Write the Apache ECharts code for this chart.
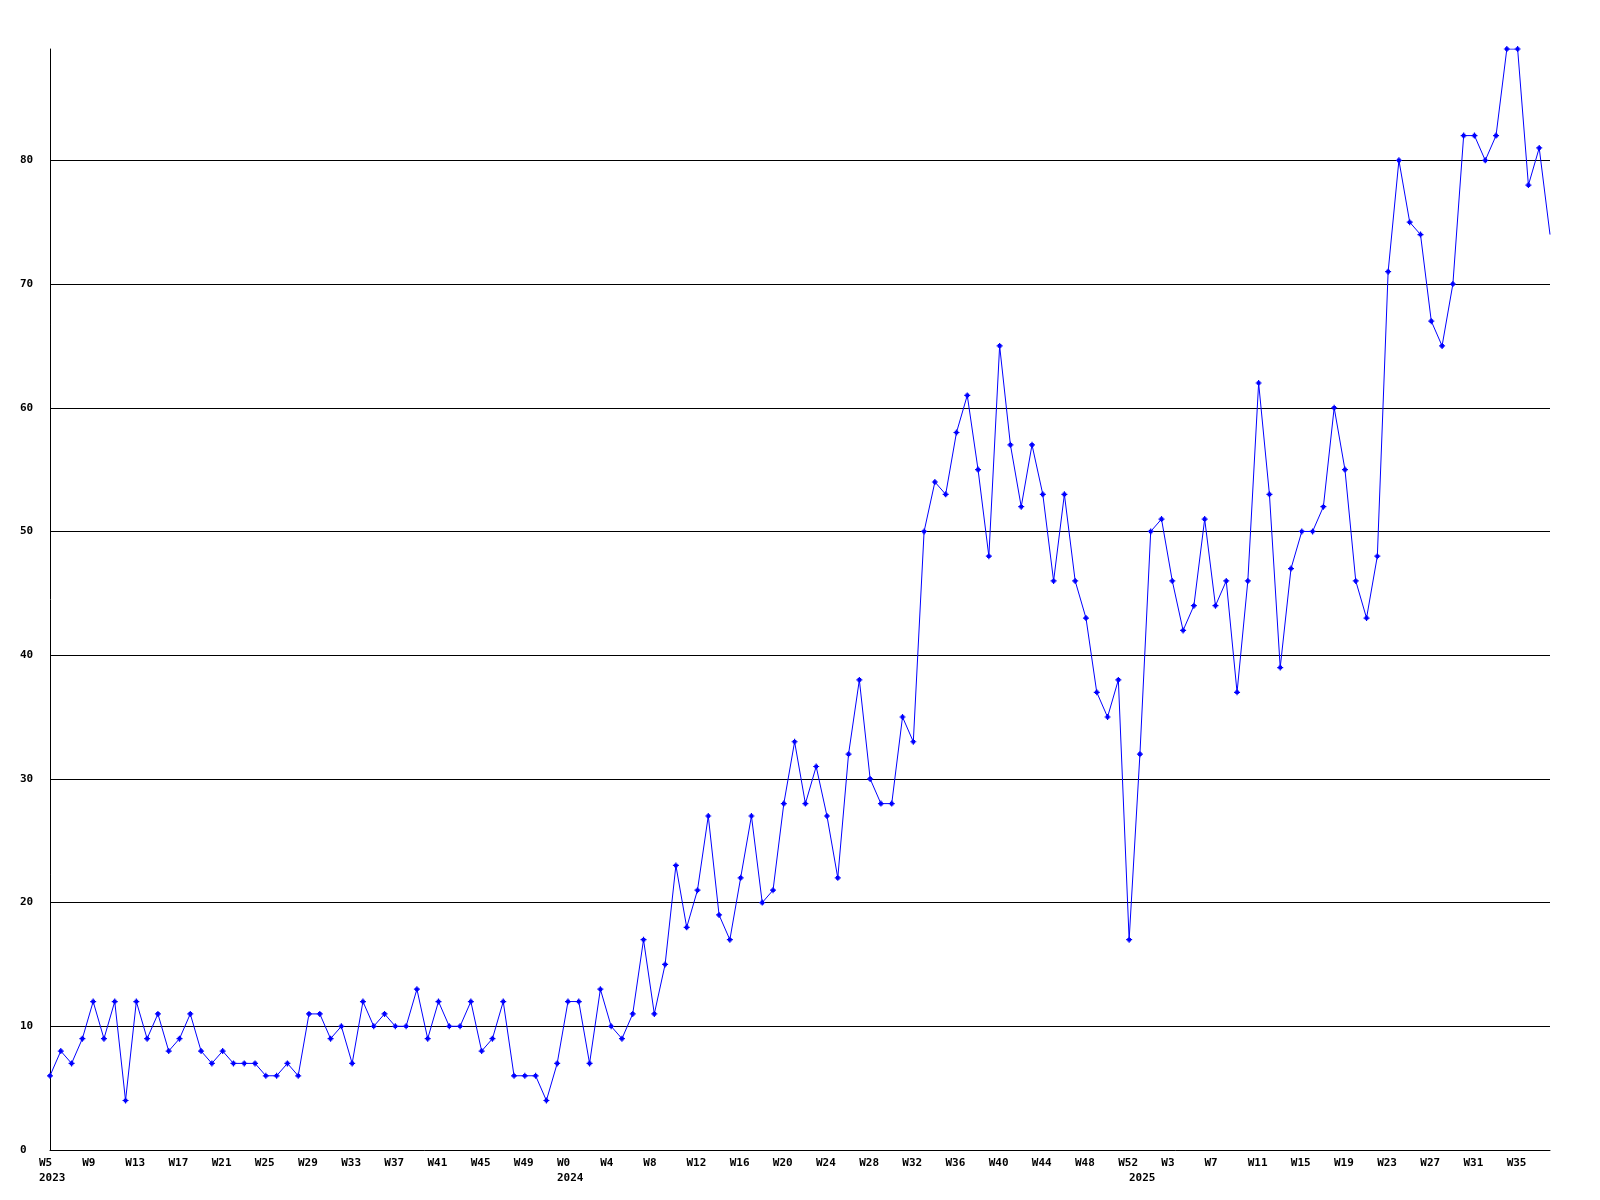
<!DOCTYPE html>
<html>
<head>
<meta charset="utf-8">
<script src="https://cdn.jsdelivr.net/npm/echarts@6/dist/echarts.min.js"></script>
<style>
  html, body { margin: 0; background: #fff; }
  #chart { width: 1600px; height: 1200px; }
</style>
</head>
<body>
<div id="chart"></div>
<script>
// week labels per year (one point per week)
const weeks2023 = ['W5','W6','W7','W8','W9','W10','W11','W12','W13','W14','W15','W16','W17','W18','W19','W20',
  'W21','W22','W23','W24','W25','W26','W27','W28','W29','W30','W31','W32','W33','W34','W35','W36',
  'W37','W38','W39','W40','W41','W42','W43','W44','W45','W46','W47','W48','W49','W50','W51','W52'];
const weeks2024 = ['W0','W1','W2','W3','W4','W5','W6','W7','W8','W9','W10','W11','W12','W13','W14','W15','W16',
  'W17','W18','W19','W20','W21','W22','W23','W24','W25','W26','W27','W28','W29','W30','W31','W32',
  'W33','W34','W35','W36','W37','W38','W39','W40','W41','W42','W43','W44','W45','W46','W47','W48',
  'W49','W50','W51','W52'];
const weeks2025 = ['W0','W1','W2','W3','W4','W5','W6','W7','W8','W9','W10','W11','W12','W13','W14','W15','W16',
  'W17','W18','W19','W20','W21','W22','W23','W24','W25','W26','W27','W28','W29','W30','W31','W32',
  'W33','W34','W35','W36','W37','W38'];
const years = ['2023', '2024', '2025'];

// weekly counts
const values2023 = [6, 8, 7, 9, 12, 9, 12, 4, 12, 9, 11, 8, 9, 11, 8, 7, 8, 7, 7, 7, 6, 6, 7, 6,
  11, 11, 9, 10, 7, 12, 10, 11, 10, 10, 13, 9, 12, 10, 10, 12, 8, 9, 12, 6, 6, 6, 4, 7];
const values2024 = [12, 12, 7, 13, 10, 9, 11, 17, 11, 15, 23, 18, 21, 27, 19, 17, 22, 27, 20, 21,
  28, 33, 28, 31, 27, 22, 32, 38, 30, 28, 28, 35, 33, 50, 54, 53, 58, 61, 55, 48,
  65, 57, 52, 57, 53, 46, 53, 46, 43, 37, 35, 38, 17];
const values2025 = [32, 50, 51, 46, 42, 44, 51, 44, 46, 37, 46, 62, 53, 39, 47, 50, 50, 52, 60, 55,
  46, 43, 48, 71, 80, 75, 74, 67, 65, 70, 82, 82, 80, 82, 89, 89, 78, 81, 74];

const labelEvery = 4; // a week label on every 4th point

const categories = [];
const yearStart = {};
[weeks2023, weeks2024, weeks2025].forEach((wk, y) => {
  yearStart[categories.length] = years[y];
  wk.forEach(w => categories.push(w));
});
const values = values2023.concat(values2024, values2025);
const last = values.length - 1;

const labelFont = {
  fontFamily: 'DejaVu Sans Mono',
  fontWeight: 'bold',
  fontSize: 11,
  color: '#000'
};

const chart = echarts.init(document.getElementById('chart'));
chart.setOption({
  animation: false,
  backgroundColor: '#fff',
  grid: { left: 50, right: 50, top: 49, bottom: 50, outerBoundsMode: 'none' },
  xAxis: {
    type: 'category',
    boundaryGap: false,
    data: categories,
    axisTick: { show: false },
    axisLine: { show: true, lineStyle: { color: '#000', width: 1 } },
    splitLine: { show: false },
    axisLabel: Object.assign({}, labelFont, {
      interval: 0,
      align: 'left',
      padding: [0, 0, 0, -11],
      margin: 6,
      lineHeight: 15,
      formatter: (val, idx) => {
        const wk = idx % labelEvery === 0 ? val : '';
        const yr = yearStart[idx] || '';
        if (!wk && !yr) return '';
        return yr ? wk + '\n' + yr : wk;
      }
    })
  },
  yAxis: {
    type: 'value',
    min: 0,
    max: 89,
    interval: 10,
    axisTick: { show: false },
    axisLine: { show: true, lineStyle: { color: '#000', width: 1 } },
    splitLine: { show: true, showMinLine: false, showMaxLine: false, lineStyle: { color: '#000', width: 1 } },
    axisLabel: Object.assign({}, labelFont, {
      align: 'left',
      margin: 30,
      padding: [3, 0, 0, 0],
      showMaxLabel: false
    })
  },
  series: [{
    type: 'line',
    data: values.map((v, i) => i === last ? { value: v, symbol: 'none' } : v),
    symbol: 'path://M2,0H3V1H4V2H5V3H4V4H3V5H2V4H1V3H0V2H1V1H2Z',
    symbolSize: 6,
    showAllSymbol: true,
    lineStyle: { color: '#0000ff', width: 1 },
    itemStyle: { color: '#0000ff' },
    emphasis: { disabled: true }
  }]
});
</script>
</body>
</html>
